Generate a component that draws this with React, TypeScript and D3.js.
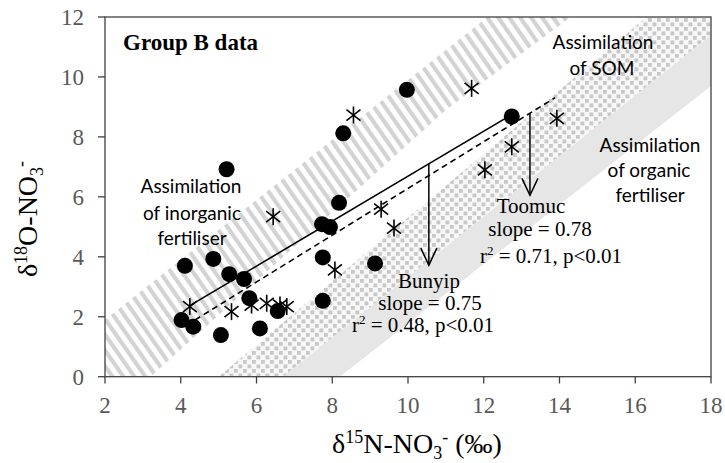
import React from "react";
import * as d3 from "d3";

// ---------- data ----------
const X_TICKS = [2, 4, 6, 8, 10, 12, 14, 16, 18];
const Y_TICKS = [0, 2, 4, 6, 8, 10, 12];

// Bunyip (filled circles) – [δ15N, δ18O]
const BUNYIP_X = [4.11, 4.86, 5.28, 5.67, 5.81, 4.02, 4.33, 5.06, 6.09, 6.56, 7.75, 7.75, 5.21, 8.29, 9.97, 12.74, 7.73, 8.18, 7.94, 9.13];
const BUNYIP_Y = [3.70, 3.93, 3.42, 3.26, 2.62, 1.89, 1.67, 1.39, 1.61, 2.19, 3.98, 2.53, 6.92, 8.12, 9.57, 8.68, 5.09, 5.80, 4.99, 3.78];

// Toomuc (asterisks)
const TOOMUC_X = [4.24, 5.34, 5.87, 6.27, 6.62, 6.80, 8.07, 8.56, 11.68, 13.93, 12.74, 12.03, 6.44, 9.29, 9.63];
const TOOMUC_Y = [2.34, 2.17, 2.39, 2.45, 2.39, 2.34, 3.56, 8.73, 9.62, 8.62, 7.67, 6.90, 5.34, 5.59, 4.96];

// regression lines
const BUNYIP_FIT = { slope: 0.75, intercept: -0.81, x0: 4.24, x1: 12.75 };
const TOOMUC_FIT = { slope: 0.78, intercept: -1.52, x0: 4.38, x1: 13.88 };
const BUNYIP_ARROW = { x: 10.55, yEnd: 3.72 };
const TOOMUC_ARROW = { x: 13.22, yEnd: 6.05 };

// source bands (polygons in data units)
const INORGANIC_BAND: [number, number][] = [[2, 0], [3.2, 0], [11.0, 8.9], [14.3, 12], [12.1, 12], [2, 1.9]];
const SOM_BAND: [number, number][] = [[5.0, 0], [6.7, 0], [18, 11.4], [18, 12], [16.3, 12]];
const ORGANIC_BAND: [number, number][] = [[6.7, 0], [8.2, 0], [18, 9.7], [18, 11.4]];

const W = 725, H = 463;
const serif = "'Liberation Serif', 'Times New Roman', serif";
const sans = "Lato, 'Open Sans', sans-serif";

export default function App() {
  const x = d3.scaleLinear().domain([2, 18]).range([105, 711]);
  const y = d3.scaleLinear().domain([0, 12]).range([376.7, 17]);
  const poly = (pts: [number, number][]) =>
    d3.line<[number, number]>().x(d => x(d[0])).y(d => y(d[1]))(pts) + "Z";

  const fitLine = (f: typeof BUNYIP_FIT) =>
    d3.line<number>().x(v => x(v)).y(v => y(f.slope * v + f.intercept))([f.x0, f.x1]) || "";

  const arrow = (a: { x: number; yEnd: number }, f: typeof BUNYIP_FIT, key: string) => {
    const ax = x(a.x);
    const y0 = y(f.slope * a.x + f.intercept);
    const y1 = y(a.yEnd);
    return (
      <g key={key} stroke="#000" strokeWidth={1.5} fill="none">
        <line x1={ax} x2={ax} y1={y0} y2={y1} />
        <polyline points={`${ax - 8},${y1 - 17} ${ax},${y1} ${ax + 8},${y1 - 17}`} />
      </g>
    );
  };

  const star = (cx: number, cy: number, i: number) => (
    <g key={"s" + i} stroke="#000" strokeWidth={1.6}>
      <line x1={cx} x2={cx} y1={cy - 8.5} y2={cy + 8.5} />
      <line x1={cx - 7} x2={cx + 7} y1={cy - 5.5} y2={cy + 5.5} />
      <line x1={cx - 7} x2={cx + 7} y1={cy + 5.5} y2={cy - 5.5} />
    </g>
  );

  return (
    <svg width={W} height={H} style={{ position: "absolute", left: 0, top: 0, background: "#fff" }}>
      <defs>
        <pattern id="stripes" width={9} height={9} patternUnits="userSpaceOnUse" patternTransform="rotate(-35)">
          <rect x={0} y={0} width={4.2} height={9} fill="#d3d3d3" />
        </pattern>
        <pattern id="dots" width={9} height={9} patternUnits="userSpaceOnUse">
          <rect x={0} y={0} width={9} height={9} fill="#f7f7f7" />
          <rect x={0} y={0} width={3.8} height={3.8} fill="#c8c8c8" />
          <rect x={4.5} y={4.5} width={3.8} height={3.8} fill="#c8c8c8" />
        </pattern>
        <clipPath id="plotclip">
          <rect x={105} y={17} width={606} height={359.7} />
        </clipPath>
      </defs>

      <g clipPath="url(#plotclip)">
        <path d={poly(ORGANIC_BAND)} fill="#e6e6e6" />
        <path d={poly(SOM_BAND)} fill="url(#dots)" />
        <path d={poly(INORGANIC_BAND)} fill="url(#stripes)" />
      </g>

      {/* frame */}
      <rect x={105} y={17} width={606} height={359.7} fill="none" stroke="#404040" strokeWidth={1.3} />

      {/* x ticks */}
      {X_TICKS.map(t => (
        <g key={"xt" + t}>
          <line x1={x(t)} x2={x(t)} y1={376.7} y2={383.5} stroke="#404040" strokeWidth={1.3} />
          <text x={x(t)} y={413} textAnchor="middle" fontFamily={serif} fontSize={23} fill="#595959">{t}</text>
        </g>
      ))}
      {Y_TICKS.map(t => (
        <g key={"yt" + t}>
          <line x1={98} x2={105} y1={y(t)} y2={y(t)} stroke="#404040" strokeWidth={1.3} />
          <text x={84} y={y(t) + 8} textAnchor="end" fontFamily={serif} fontSize={23} fill="#595959">{t}</text>
        </g>
      ))}

      {/* axis titles */}
      <text x={417} y={453} textAnchor="middle" fontFamily={serif} fontSize={28} fill="#000">
        δ<tspan dy={-10} fontSize={18}>15</tspan><tspan dy={10}>N-NO</tspan><tspan dy={6} fontSize={18}>3</tspan><tspan dy={-16} fontSize={18}>-</tspan><tspan dy={10}> (‰)</tspan>
      </text>
      <text transform="translate(37,219) rotate(-90)" textAnchor="middle" fontFamily={serif} fontSize={28} fill="#000">
        δ<tspan dy={-10} fontSize={18}>18</tspan><tspan dy={10}>O-NO</tspan><tspan dy={6} fontSize={18}>3</tspan><tspan dy={-16} fontSize={18}>-</tspan>
      </text>

      {/* fits */}
      <path d={fitLine(BUNYIP_FIT)} stroke="#000" strokeWidth={1.6} fill="none" />
      <path d={fitLine(TOOMUC_FIT)} stroke="#000" strokeWidth={1.6} fill="none" strokeDasharray="6,4" />
      {arrow(BUNYIP_ARROW, BUNYIP_FIT, "ab")}
      {arrow(TOOMUC_ARROW, TOOMUC_FIT, "at")}

      {/* points */}
      {BUNYIP_X.map((v, i) => (
        <circle key={"c" + i} cx={x(v)} cy={y(BUNYIP_Y[i])} r={8} fill="#000" />
      ))}
      {TOOMUC_X.map((v, i) => star(x(v), y(TOOMUC_Y[i]), i))}

      {/* labels */}
      <text x={123} y={50} fontFamily={serif} fontSize={23} fontWeight="bold">Group B data</text>

      <g fontFamily={sans} fontSize={19} textAnchor="middle" fill="#000">
        <text x={191} y={193}>Assimilation</text>
        <text x={192} y={220}>of inorganic</text>
        <text x={192} y={245}>fertiliser</text>
        <text x={603} y={49}>Assimilation</text>
        <text x={602} y={75}>of SOM</text>
        <text x={650} y={152}>Assimilation</text>
        <text x={649} y={177}>of organic</text>
        <text x={650} y={202}>fertiliser</text>
      </g>

      <g fontFamily={serif} fontSize={21} textAnchor="middle" fill="#000">
        <text x={531} y={213}>Toomuc</text>
        <text x={540} y={236}>slope = 0.78</text>
        <text x={551} y={263}>r<tspan dy={-8} fontSize={13}>2</tspan><tspan dy={8}> = 0.71, p&lt;0.01</tspan></text>
        <text x={429} y={288}>Bunyip</text>
        <text x={430} y={310}>slope = 0.75</text>
        <text x={423} y={332}>r<tspan dy={-8} fontSize={13}>2</tspan><tspan dy={8}> = 0.48, p&lt;0.01</tspan></text>
      </g>
    </svg>
  );
}
